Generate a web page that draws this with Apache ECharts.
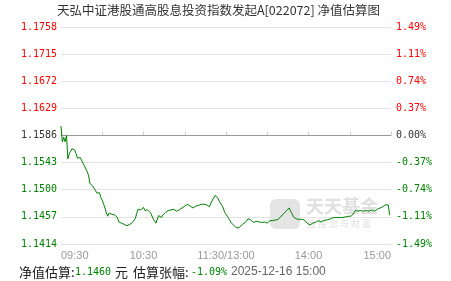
<!DOCTYPE html>
<html><head><meta charset="utf-8">
<script src="https://cdn.jsdelivr.net/npm/echarts@6/dist/echarts.min.js"></script>
<style>html,body{margin:0;padding:0;background:#fff}#c{width:451px;height:281px}</style>
</head><body><div id="c"></div>
<script>
const titleText = '天弘中证港股通高股息投资指数发起A[022072] 净值估算图';
const baseNav = 1.1586;
const pctRange = 1.485;
const navTickLabels = ['1.1414','1.1457','1.1500','1.1543','1.1586','1.1629','1.1672','1.1715','1.1758'];
const pctTickLabels = ['-1.49%','-1.11%','-0.74%','-0.37%','0.00%','0.37%','0.74%','1.11%','1.49%'];
const timeTickLabels = {0:'09:30', 60:'10:30', 120:'11:30/13:00', 180:'14:00', 240:'15:00'};
const navValues = [
1.1601,1.1576,1.1583,1.1576,1.1586,1.1549,1.1557,1.1561,1.1565,1.1566,
1.1563,1.1557,1.1550,1.1547,1.1551,1.1549,1.1542,1.1538,1.1535,1.1529,
1.1523,1.1510,1.1507,1.1506,1.1503,1.1499,1.1495,1.1494,1.1495,1.1488,
1.1483,1.1477,1.1471,1.1463,1.1458,1.1463,1.1464,1.1461,1.1460,1.1460,
1.1459,1.1456,1.1449,1.1449,1.1447,1.1447,1.1445,1.1443,1.1443,1.1442,
1.1445,1.1447,1.1448,1.1451,1.1454,1.1462,1.1469,1.1468,1.1468,1.1470,
1.1472,1.1467,1.1466,1.1468,1.1465,1.1464,1.1462,1.1454,1.1453,1.1447,
1.1446,1.1459,1.1457,1.1456,1.1460,1.1462,1.1464,1.1466,1.1467,1.1466,
1.1468,1.1470,1.1469,1.1468,1.1466,1.1466,1.1468,1.1469,1.1471,1.1473,
1.1474,1.1477,1.1477,1.1474,1.1474,1.1472,1.1471,1.1472,1.1474,1.1474,
1.1475,1.1477,1.1477,1.1477,1.1477,1.1477,1.1476,1.1475,1.1473,1.1479,
1.1482,1.1487,1.1491,1.1490,1.1487,1.1482,1.1479,1.1475,1.1471,1.1464,
1.1461,1.1458,1.1454,1.1451,1.1447,1.1445,1.1443,1.1440,1.1439,1.1437,
1.1441,1.1443,1.1445,1.1447,1.1448,1.1450,1.1454,1.1454,1.1452,1.1450,
1.1448,1.1451,1.1450,1.1448,1.1449,1.1449,1.1448,1.1448,1.1449,1.1449,
1.1447,1.1450,1.1451,1.1451,1.1451,1.1451,1.1452,1.1452,1.1453,1.1454,
1.1458,1.1460,1.1462,1.1465,1.1467,1.1469,1.1471,1.1466,1.1462,1.1457,
1.1455,1.1454,1.1453,1.1453,1.1453,1.1453,1.1453,1.1452,1.1451,1.1447,
1.1445,1.1444,1.1446,1.1447,1.1448,1.1448,1.1450,1.1451,1.1450,1.1449,
1.1450,1.1451,1.1453,1.1452,1.1452,1.1453,1.1454,1.1455,1.1454,1.1456,
1.1458,1.1456,1.1454,1.1456,1.1457,1.1456,1.1455,1.1457,1.1456,1.1458,
1.1457,1.1458,1.1460,1.1463,1.1467,1.1466,1.1466,1.1466,1.1467,1.1467,
1.1466,1.1466,1.1467,1.1466,1.1466,1.1466,1.1468,1.1466,1.1466,1.1467,
1.1469,1.1469,1.1471,1.1472,1.1473,1.1475,1.1476,1.1477,1.1476,1.1460
];
const estNav = '1.1460';
const estPct = '-1.09%';
const estTime = '2025-12-16 15:00';

// minute categories: 09:30-11:30, 13:01-15:00
const times = [];
function pad(n){return (n<10?'0':'')+n;}
for (let m = 9*60+30; m <= 11*60+30; m++) times.push(pad(Math.floor(m/60))+':'+pad(m%60));
for (let m = 13*60+1; m <= 15*60; m++) times.push(pad(Math.floor(m/60))+':'+pad(m%60));

const navMin = baseNav*(1-pctRange/100), navMax = baseNav*(1+pctRange/100);
const navStep = (navMax-navMin)/8;
const pctStep = pctRange/4;
const RED='#ff0000', GREEN='#008000', DARK='#333333';
function styleFor(i){ return i>4?'r':(i===4?'z':'g'); }
function navIdx(v){ return Math.round((Number(v)-navMin)/navStep); }
function pctIdx(v){ return Math.round((Number(v)+pctRange)/pctStep); }
const mono = 'DejaVu Sans Mono';
const labelRich = {
  r:{color:RED,fontFamily:mono,fontSize:10},
  g:{color:GREEN,fontFamily:mono,fontSize:10},
  z:{color:DARK,fontFamily:mono,fontSize:10}
};

const chart = echarts.init(document.getElementById('c'), null, {renderer:'canvas'});
chart.setOption({
  animation:false,
  backgroundColor:'#fff',
  title:{text:titleText,left:57,top:4,padding:0,
    textStyle:{fontSize:12.5,fontWeight:'normal',color:'#333',fontFamily:'Noto Sans CJK SC'}},
  grid:{left:61,right:60,top:27,bottom:37,containLabel:false},
  xAxis:{type:'category',data:times,boundaryGap:false,
    axisLine:{show:true,lineStyle:{color:'#c4cfdc',width:1}},
    axisTick:{show:true,inside:true,length:4,interval:(i)=>i%30===0,lineStyle:{color:'#c4cfdc'}},
    axisLabel:{interval:(i)=>i%60===0,margin:6,color:'#999',fontSize:11,fontFamily:'Liberation Sans',
      alignMinLabel:'left',alignMaxLabel:'right',
      formatter:(v,i)=>timeTickLabels[i]!==undefined?timeTickLabels[i]:''},
    splitLine:{show:false}},
  yAxis:[
    {type:'value',min:navMin,max:navMax,interval:navStep,position:'left',
     axisLine:{show:false},axisTick:{show:false},
     splitLine:{show:true,lineStyle:{color:'#e4e4e4',type:'solid',width:1}},
     axisLabel:{margin:4,rich:labelRich,
       formatter:(v)=>{const i=navIdx(v);return '{'+styleFor(i)+'|'+navTickLabels[i]+'}';}}},
    {type:'value',min:-pctRange,max:pctRange,interval:pctStep,position:'right',
     axisLine:{show:false},axisTick:{show:false},splitLine:{show:false},
     axisLabel:{margin:5,rich:labelRich,
       formatter:(v)=>{const i=pctIdx(v);return '{'+styleFor(i)+'|'+pctTickLabels[i]+'}';}}}
  ],
  series:[{type:'line',data:navValues,yAxisIndex:0,showSymbol:false,symbol:'none',
    lineStyle:{color:GREEN,width:1},z:5,
    markLine:{silent:true,precision:4,symbol:['none','none'],label:{show:false},z:3,
      lineStyle:{color:'#999999',type:'solid',width:1},
      data:[{yAxis:baseNav}]}}],
  graphic:[
    {type:'rect',z:1,shape:{x:270,y:199,width:30,height:30,r:6},style:{fill:'#e4e4e4'}},
    {type:'text',z:1,left:306,top:197,style:{text:'天天基金',fontSize:18,fontWeight:'bold',fill:'#e0e0e0',fontFamily:'Noto Sans CJK SC'}},
    {type:'text',z:1,left:307,top:219,style:{text:'连 接 您 与 财 富',fontSize:9,fill:'#e0e0e0',fontFamily:'Noto Sans CJK SC'}},
    {type:'text',z:10,x:19,y:272,style:{text:'净值估算:',fontSize:13,fill:'#222',fontFamily:'Noto Sans CJK SC',verticalAlign:'middle'}},
    {type:'text',z:10,x:75,y:272,style:{text:estNav,fontSize:10,fill:GREEN,fontFamily:mono,verticalAlign:'middle'}},
    {type:'text',z:10,x:115,y:272,style:{text:'元',fontSize:13,fill:'#222',fontFamily:'Noto Sans CJK SC',verticalAlign:'middle'}},
    {type:'text',z:10,x:133,y:272,style:{text:'估算张幅:',fontSize:13,fill:'#222',fontFamily:'Noto Sans CJK SC',verticalAlign:'middle'}},
    {type:'text',z:10,x:191,y:272,style:{text:estPct,fontSize:10,fill:GREEN,fontFamily:mono,verticalAlign:'middle'}},
    {type:'text',z:10,x:231,y:272,style:{text:estTime,fontSize:12,fill:'#666',fontFamily:'Liberation Sans',verticalAlign:'middle'}}
  ]
});
</script></body></html>
